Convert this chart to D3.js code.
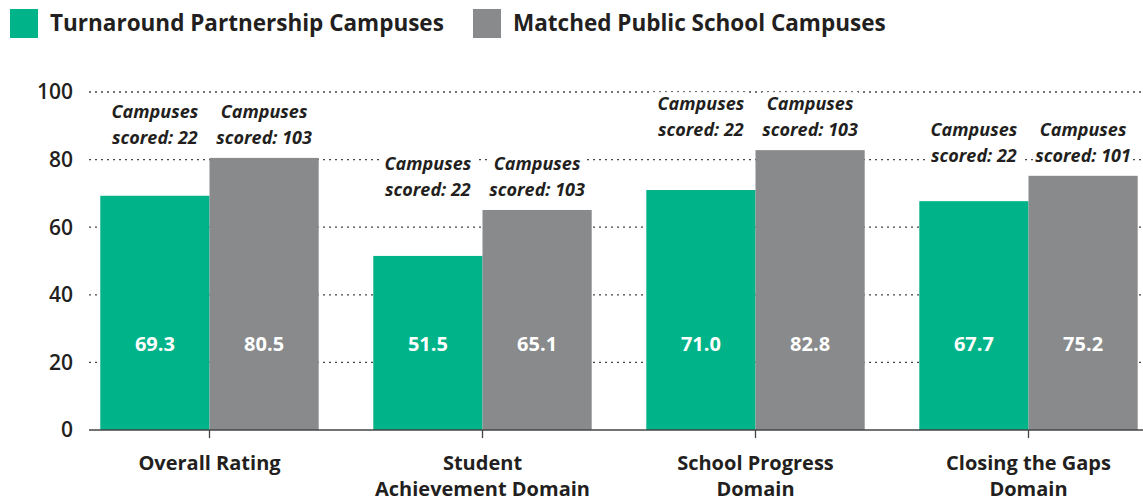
<!DOCTYPE html>
<meta charset="utf-8">
<style>
    body { margin: 0; background: #fff; }
    svg { display: block; font-family: "Open Sans", "Lato", sans-serif; }
    .grid line { stroke: #444; stroke-width: 1.3px; stroke-dasharray: 2 4; }
    .ylab { font-size: 21px; font-weight: 600; fill: #231f20; }
    .cat { font-size: 20px; font-weight: 700; fill: #231f20; }
    .note { font-size: 18px; font-weight: 700; font-style: italic; fill: #231f20; }
    .val { font-size: 20px; font-weight: 700; fill: #fff; }
    .legend text { font-size: 22.5px; font-weight: 700; fill: #231f20; }
</style>
<svg width="1143" height="501"></svg>
<script src="https://d3js.org/d3.v7.min.js"></script>
<script>
    var categories = [["Overall Rating"], ["Student", "Achievement Domain"], ["School Progress", "Domain"], ["Closing the Gaps", "Domain"]];
    var series = ["Turnaround Partnership Campuses", "Matched Public School Campuses"];
    var turnaround = [69.3, 51.5, 71.0, 67.7];
    var matched = [80.5, 65.1, 82.8, 75.2];
    var turnaroundCount = [22, 22, 22, 22];
    var matchedCount = [103, 103, 103, 101];
    var yTicks = [0, 20, 40, 60, 80, 100];
    var colors = ["#00b388", "#888a8c"];

    var svg = d3.select("svg"),
        width = +svg.attr("width");

    var x = d3.scaleBand()
        .domain(d3.range(categories.length))
        .range([73, 1165])
        .paddingInner(0.2)
        .paddingOuter(0.1);

    var x1 = d3.scaleBand()
        .domain([0, 1])
        .range([0, x.bandwidth()]);

    var y = d3.scaleLinear()
        .domain([0, 100])
        .range([430, 92]);

    // gridlines behind bars
    svg.append("g")
        .attr("class", "grid")
        .selectAll("line")
        .data(yTicks.filter(function(d) { return d > 0; }))
        .enter().append("line")
        .attr("x1", 89)
        .attr("x2", width)
        .attr("y1", function(d) { return y(d); })
        .attr("y2", function(d) { return y(d); });

    svg.append("g")
        .selectAll("text")
        .data(yTicks)
        .enter().append("text")
        .attr("class", "ylab")
        .attr("x", 73)
        .attr("y", function(d) { return y(d); })
        .attr("dy", "0.35em")
        .attr("text-anchor", "end")
        .text(function(d) { return d; });

    var groups = svg.append("g")
        .selectAll("g")
        .data(categories)
        .enter().append("g")
        .attr("transform", function(d, i) { return "translate(" + x(i) + ",0)"; });

    var bars = [turnaround, matched];
    var counts = [turnaroundCount, matchedCount];

    groups.each(function(d, i) {
        var g = d3.select(this);
        var top = y(Math.max(turnaround[i], matched[i]));
        bars.forEach(function(vals, s) {
            var cx = x1(s) + x1.bandwidth() / 2;
            g.append("rect")
                .attr("x", x1(s))
                .attr("y", y(vals[i]))
                .attr("width", x1.bandwidth())
                .attr("height", y(0) - y(vals[i]))
                .attr("fill", colors[s]);

            g.append("text")
                .attr("class", "val")
                .attr("x", cx)
                .attr("y", y(25.3))
                .attr("dy", "0.35em")
                .attr("text-anchor", "middle")
                .text(vals[i].toFixed(1));

            // white box behind the note so gridlines break around it
            g.append("rect")
                .attr("x", cx - 48)
                .attr("y", top - 58)
                .attr("width", 96)
                .attr("height", 52)
                .attr("fill", "#fff");

            var note = g.append("text")
                .attr("class", "note")
                .attr("text-anchor", "middle");
            note.append("tspan")
                .attr("x", cx)
                .attr("y", top - 40)
                .text("Campuses");
            note.append("tspan")
                .attr("x", cx)
                .attr("y", top - 14)
                .text("scored: " + counts[s][i]);
        });

        var lab = g.append("text")
            .attr("class", "cat")
            .attr("text-anchor", "middle");
        d.forEach(function(line, k) {
            lab.append("tspan")
                .attr("x", x.bandwidth() / 2)
                .attr("y", 470 + k * 26)
                .text(line);
        });

        g.append("line")
            .attr("x1", x.bandwidth() / 2)
            .attr("x2", x.bandwidth() / 2)
            .attr("y1", y(0))
            .attr("y2", y(0) + 8)
            .attr("stroke", "#444")
            .attr("stroke-width", 1.3);
    });

    // axis baseline
    svg.append("line")
        .attr("x1", 89)
        .attr("x2", width)
        .attr("y1", y(0))
        .attr("y2", y(0))
        .attr("stroke", "#444")
        .attr("stroke-width", 1.5);

    // legend
    var legend = svg.append("g").attr("class", "legend");
    var legendX = [10, 473];
    series.forEach(function(name, s) {
        legend.append("rect")
            .attr("x", legendX[s])
            .attr("y", 9)
            .attr("width", 28)
            .attr("height", 29)
            .attr("fill", colors[s]);
        legend.append("text")
            .attr("x", legendX[s] + 40)
            .attr("y", 23)
            .attr("dy", "0.35em")
            .text(name);
    });
</script>
